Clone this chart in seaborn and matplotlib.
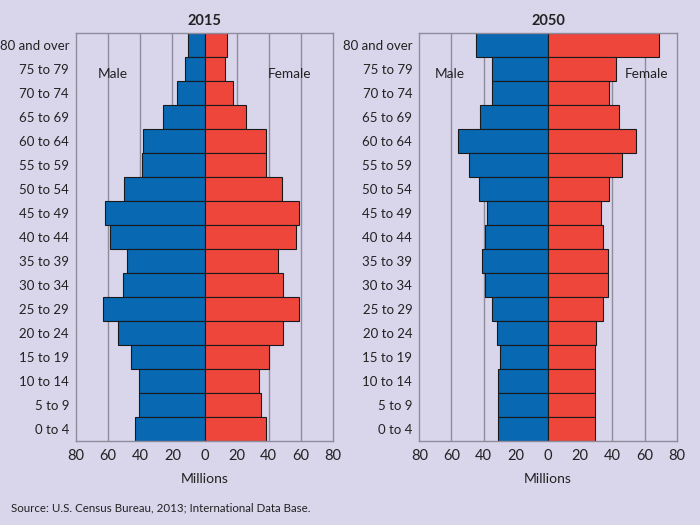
import matplotlib
matplotlib.use("Agg")
import matplotlib.pyplot as plt
import seaborn as sns
import pandas as pd

age_groups = ["80 and over", "75 to 79", "70 to 74", "65 to 69", "60 to 64", "55 to 59",
              "50 to 54", "45 to 49", "40 to 44", "35 to 39", "30 to 34", "25 to 29",
              "20 to 24", "15 to 19", "10 to 14", "5 to 9", "0 to 4"]

male_2015 = [10, 12, 17, 26, 38, 39, 50, 62, 59, 48, 51, 63, 54, 46, 41, 41, 43]
female_2015 = [14, 13, 18, 26, 38, 38, 48, 59, 57, 46, 49, 59, 49, 40, 34, 35, 38]

male_2050 = [45, 35, 35, 42, 56, 49, 43, 38, 39, 41, 39, 35, 32, 30, 31, 31, 31]
female_2050 = [69, 42, 38, 44, 55, 46, 38, 33, 34, 37, 37, 34, 30, 29, 29, 29, 29]

tick_values = [-80, -60, -40, -20, 0, 20, 40, 60, 80]
tick_labels = ["80", "60", "40", "20", "0", "20", "40", "60", "80"]

BG = "#D9D5EB"
BLUE = "#0868B2"
RED = "#EF463C"
GRID = "#8E8C9A"
TXT = "#222222"

sns.set_theme(style="white")
plt.rcParams["font.family"] = ["Lato", "DejaVu Sans"]

fig = plt.figure(figsize=(7, 5.25), dpi=100, facecolor=BG)

def make_df(male, female):
    rows = []
    for g, m, f in zip(age_groups, male, female):
        rows.append({"age": g, "sex": "Male", "value": -m})
        rows.append({"age": g, "sex": "Female", "value": f})
    return pd.DataFrame(rows)

panels = [
    ("2015", male_2015, female_2015, [0.1086, 0.1606, 0.3671, 0.7766], (-57, 53)),
    ("2050", male_2050, female_2050, [0.5990, 0.1606, 0.3677, 0.7766], (-61, 61)),
]

for title, male, female, rect, (mx, fx) in panels:
    ax = fig.add_axes(rect)
    ax.set_facecolor(BG)
    df = make_df(male, female)
    for x in [-60, -40, -20, 20, 40, 60]:
        ax.axvline(x, color=GRID, lw=1.0, zorder=0)
    sns.barplot(data=df, y="age", x="value", hue="sex", order=age_groups,
                hue_order=["Male", "Female"], palette={"Male": BLUE, "Female": RED},
                saturation=1, dodge=False, width=1.0, orient="h",
                edgecolor="#1a1a1a", linewidth=0.8,
                legend=False, ax=ax, zorder=2)
    ax.set_xlim(-80, 80)
    ax.set_ylim(len(age_groups) - 0.5, -0.5)
    ax.set_xticks(tick_values)
    ax.set_xticklabels(tick_labels, fontsize=10.5, color=TXT)
    ax.tick_params(axis="y", labelsize=9.5, colors=TXT, length=0, pad=5)
    ax.tick_params(axis="x", length=0, pad=6)
    ax.set_ylabel("")
    ax.set_xlabel("Millions", fontsize=10, color=TXT, labelpad=7)
    ax.set_title(title, fontsize=10.5, fontweight="bold", color=TXT, pad=6)
    for s in ax.spines.values():
        s.set_color(GRID)
        s.set_linewidth(1.0)
        s.set_visible(True)
    ax.text(mx, 1.2, "Male", ha="center", va="center", fontsize=9.8, color=TXT, zorder=3)
    ax.text(fx, 1.2, "Female", ha="center", va="center", fontsize=9.8, color=TXT, zorder=3)

fig.text(0.016, 0.032, "Source: U.S. Census Bureau, 2013; International Data Base.",
         fontsize=8.3, color=TXT, ha="left", va="center")

fig.savefig("out.png", dpi=100, facecolor=BG)
